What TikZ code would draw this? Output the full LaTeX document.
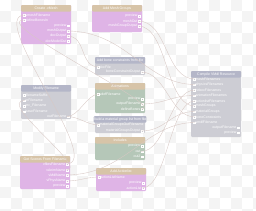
\documentclass[tikz,border=0pt]{standalone}
\usepackage{fontspec}
\setmainfont{Liberation Sans}
\usetikzlibrary{positioning}
\definecolor{headtan}{HTML}{D7C4A8}
\definecolor{headgrey}{HTML}{B4B6C8}
\definecolor{bodypink}{HTML}{DFB4E6}
\definecolor{bodygrey}{HTML}{CDCDD4}
\definecolor{bodygreen}{HTML}{B5C7B8}
\definecolor{wirecol}{HTML}{D8C8C4}
\definecolor{checker}{HTML}{F4F4F4}

\begin{document}
\begin{tikzpicture}[
  x=2pt, y=-2pt,
  every node/.style={font=\fontsize{7}{8}\selectfont, text=white},
  body/.style={rectangle, rounded corners=2pt, anchor=north west,
               minimum width=100pt, inner sep=0pt},
  pinkbody/.style={body, fill=bodypink},
  greybody/.style={body, fill=bodygrey},
  greenbody/.style={body, fill=bodygreen},
  head/.style={rectangle, rounded corners=2pt, anchor=north,
               minimum width=100pt, minimum height=13pt, inner sep=0pt},
  tanhead/.style={head, fill=headtan},
  greyhead/.style={head, fill=headgrey},
  sq/.style={draw=white, fill=none, minimum size=3pt, inner sep=0pt},
  inport/.style={anchor=west, inner sep=1pt, label={[sq]left:{}}},
  outport/.style={anchor=east, inner sep=1pt, label={[sq]right:{}}},
  wire/.style={draw=wirecol, line width=0.7pt}
]
  \useasboundingbox (0,0) rectangle (256,211);
  % checkered backdrop
  \fill[white] (0,0) rectangle (256,211);
  \foreach \i in {0,...,23}
    \foreach \j in {0,...,19}
      {\ifodd\numexpr\i+\j\relax \fill[checker] (\i*11,\j*11) rectangle +(11,11);\fi}

  % Create .vMesh
  \node[pinkbody, minimum height=78pt] (cv) at (21,5) {};
  \node[tanhead] (cvh) at (cv.north) {Create .vMesh};
  \node[inport] (cv-i1) at (25,15) {vmeshFilename};
  \node[inport] (cv-i2) at (25,20) {defineBonesIn};
  \node[outport] (cv-o1) at (67,25.5) {preview};
  \node[outport] (cv-o2) at (67,31) {meshOutput};
  \node[outport] (cv-o3) at (67,36) {docOutput};
  \node[outport] (cv-o4) at (67,41) {docModelOut};

  % Add Mesh Groups
  \node[pinkbody, minimum height=54pt] (am) at (92,5) {};
  \node[tanhead] (amh) at (am.north) {Add Mesh Groups};
  \node[outport] (am-o1) at (138,16) {preview};
  \node[outport] (am-o2) at (138,21) {meshOut};
  \node[outport] (am-o3) at (138,26) {meshGroupOutput};

  % bone constraints
  \node[greybody, minimum height=36pt] (bn) at (95,57) {};
  \node[greyhead] (bnh) at (bn.north) {Add bone constraints from file};
  \node[inport] (bn-i1) at (99,67) {docFile};
  \node[outport] (bn-o1) at (141,72) {boneConstraintOutput};

  % Modify Filename
  \node[greybody, minimum height=68pt] (md) at (21,85) {};
  \node[greyhead] (mdh) at (md.north) {Modify Filename};
  \node[inport] (md-i1) at (25,95) {filenameSuffix};
  \node[inport] (md-i2) at (25,100.5) {inFilename};
  \node[inport] (md-i3) at (25,106) {inc\_Filename};
  \node[inport] (md-i4) at (25,111.5) {baseFilename};
  \node[outport] (md-o1) at (67,116.5) {outFilename};

  % Animations
  \node[greenbody, minimum height=60pt] (an) at (95,83) {};
  \node[tanhead] (anh) at (an.north) {Animations};
  \node[inport] (an-i1) at (99,94) {vdefFilename};
  \node[outport] (an-o1) at (141,99) {preview};
  \node[outport] (an-o2) at (141,104) {outputFilename};
  \node[outport] (an-o3) at (141,109) {defineBones};

  % material groups
  \node[greybody, minimum height=34pt] (mt) at (95,116) {};
  \node[greyhead] (mth) at (mt.north) {Build a material group list from file};
  \node[inport] (mt-i1) at (99,125) {materialGroupsOutFilename};
  \node[outport] (mt-o1) at (141,131) {materialGroupsOutput};

  % Includes
  \node[greenbody, minimum height=46pt] (ic) at (95,137) {};
  \node[tanhead] (ich) at (ic.north) {Includes};
  \node[outport] (ic-o1) at (141,146) {preview};
  \node[outport] (ic-o2) at (141,151.5) {out};
  \node[outport] (ic-o3) at (141,156.5) {out2};

  % Add Actionlist
  \node[pinkbody, minimum height=46pt] (aa) at (96,168) {};
  \node[tanhead] (aah) at (aa.north) {Add Actionlist};
  \node[inport] (aa-i1) at (100,177) {actionListName};
  \node[outport] (aa-o1) at (142,183) {preview};
  \node[outport] (aa-o2) at (142,188) {actionList};

  % Get Scenes From Filename
  \node[pinkbody, minimum height=66pt] (gs) at (20,156) {};
  \node[tanhead] (gsh) at (gs.north) {Get Scenes From Filename};
  \node[outport] (gs-o1) at (66,164) {vfilesFilename};
  \node[outport] (gs-o2) at (66,170) {vAnimName};
  \node[outport] (gs-o3) at (66,175) {vMdlName};
  \node[outport] (gs-o4) at (66,181) {vPhysName};
  \node[outport] (gs-o5) at (66,186) {preview};

  % Compile VMdl Resource
  \node[greybody, minimum height=132pt] (cp) at (191,71) {};
  \node[greyhead] (cph) at (cp.north) {Compile VMdl Resource};
  \node[inport] (cp-i1) at (195,79) {meshFilenames};
  \node[inport] (cp-i2) at (195,84.5) {physicsFilenames};
  \node[inport] (cp-i3) at (195,90) {hitboxFilenames};
  \node[inport] (cp-i4) at (195,95.5) {animationFilenames};
  \node[inport] (cp-i5) at (195,101) {actionlistFilenames};
  \node[inport] (cp-i6) at (195,106) {meshGroups};
  \node[inport] (cp-i7) at (195,111.5) {materialGroups};
  \node[inport] (cp-i8) at (195,117) {boneConstraints};
  \node[inport] (cp-i9) at (195,122.5) {vmdlFilename};
  \node[outport] (cp-o1) at (237,127.5) {outputFilename};
  \node[outport] (cp-o2) at (237,132.5) {preview};

  % wires
  \draw[wire] (gs-o1.east) .. controls +(40,0) and +(-40,0) .. (cv-i1.west);
  \draw[wire] (an-o3.east) .. controls +(30,0) and +(-40,0) .. (cv-i2.west);
  \draw[wire] (gs-o2.east) .. controls +(25,0) and +(-30,0) .. (md-i2.west);
  \draw[wire] (gs-o3.east) .. controls +(60,0) and +(-50,0) .. (cp-i9.west);
  \draw[wire] (gs-o4.east) .. controls +(15,0) and +(-15,0) .. (aa-i1.west);
  \draw[wire] (md-o1.east) .. controls +(12,0) and +(-12,0) .. (an-i1.west);
  \draw[wire] (md-o1.east) .. controls +(12,0) and +(-12,0) .. (mt-i1.west);
  \draw[wire] (cv-o3.east) .. controls +(20,0) and +(-20,0) .. (bn-i1.west);
  \draw[wire] (cv-o2.east) .. controls +(60,0) and +(-50,0) .. (cp-i2.west);
  \draw[wire] (am-o2.east) .. controls +(30,0) and +(-30,0) .. (cp-i1.west);
  \draw[wire] (am-o3.east) .. controls +(30,0) and +(-30,0) .. (cp-i6.west);
  \draw[wire] (bn-o1.east) .. controls +(25,0) and +(-25,0) .. (cp-i8.west);
  \draw[wire] (an-o2.east) .. controls +(25,0) and +(-25,0) .. (cp-i4.west);
  \draw[wire] (mt-o1.east) .. controls +(25,0) and +(-25,0) .. (cp-i7.west);
  \draw[wire] (ic-o2.east) .. controls +(25,0) and +(-25,0) .. (cp-i3.west);
  \draw[wire] (aa-o2.east) .. controls +(25,0) and +(-25,0) .. (cp-i5.west);
\end{tikzpicture}
\end{document}
